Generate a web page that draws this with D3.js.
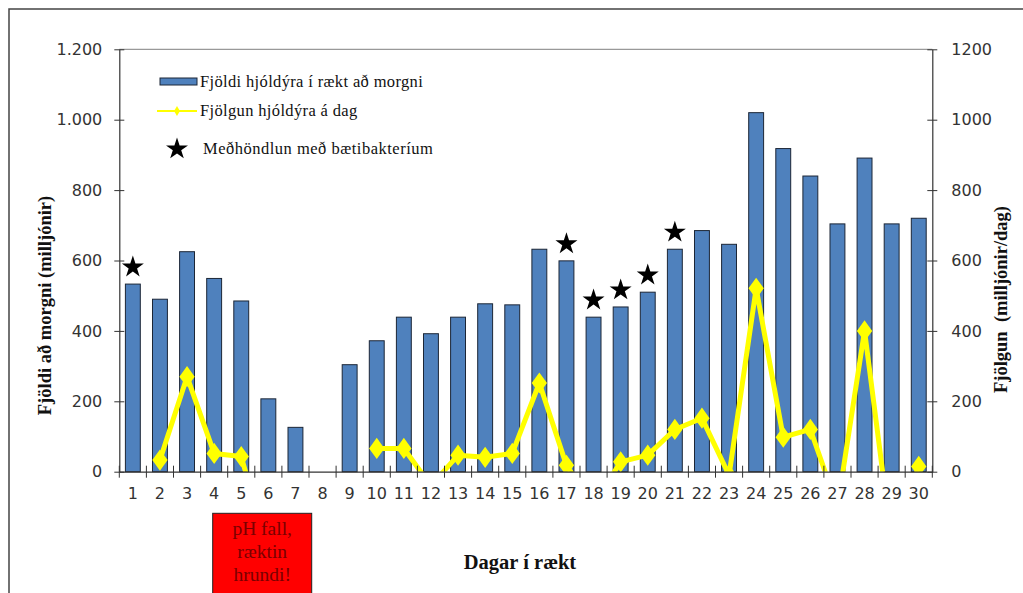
<!DOCTYPE html>
<html>
<head>
<meta charset="utf-8">
<script src="https://cdn.jsdelivr.net/npm/d3@7"></script>
<style>
  html, body { margin: 0; padding: 0; background: #fff; }
  svg { display: block; }
</style>
</head>
<body>
<svg id="chart" width="1023" height="593"></svg>
<script>
// Days in culture
const days = d3.range(1, 31);
// Rotifers in culture each morning (millions)
const morningCount = [533, 490, 625, 549, 485, 207, 126, null, 304, 372,
                      439, 392, 439, 477, 474, 632, 599, 439, 468, 510,
                      632, 685, 646, 1020, 918, 840, 704, 891, 704, 720];
// Daily increase (millions/day); null where no value was recorded
const dailyGrowth = [null, 33, 270, 52, 43, -230, null, null, null, 66,
                     66, -40, 47, 41, 52, 252, 18, -95, 28, 47,
                     120, 152, -10, 521, 98, 120, -100, 400, -200, 15];
// Days with probiotic treatment
const treatmentDays = [1, 17, 18, 19, 20, 21];
// Axis ticks
const leftTicks = [0, 200, 400, 600, 800, 1000, 1200];
const rightTicks = [0, 200, 400, 600, 800, 1000, 1200];
const leftTickLabels = ["0", "200", "400", "600", "800", "1.000", "1.200"];
const rightTickLabels = ["0", "200", "400", "600", "800", "1000", "1200"];

const svg = d3.select("#chart");
const plot = { left: 119.3, right: 932.3, top: 49.3, bottom: 471.7 };

const xBand = d3.scaleBand().domain(days).range([plot.left, plot.right])
  .paddingInner(0.45).paddingOuter(0.225);
const xStep = d3.scaleBand().domain(days).range([plot.left, plot.right]).padding(0);
const yLeft = d3.scaleLinear().domain([0, 1200]).range([plot.bottom, plot.top]);
const yRight = d3.scaleLinear().domain([0, 1200]).range([plot.bottom, plot.top]);
const cx = d => xBand(d) + xBand.bandwidth() / 2;

const serif = "'Liberation Serif', 'Times New Roman', serif";
const sans = "'DejaVu Sans', Verdana, sans-serif";

// outer chart frame
svg.append("rect").attr("x", 9).attr("y", 9).attr("width", 1030).attr("height", 600)
  .attr("fill", "none").attr("stroke", "#444").attr("stroke-width", 1.5);

// plot area top border
svg.append("line").attr("x1", plot.left).attr("x2", plot.right)
  .attr("y1", plot.top).attr("y2", plot.top)
  .attr("stroke", "#999").attr("stroke-width", 1.2);

// bars
svg.append("g").selectAll("rect")
  .data(days.filter((d, i) => morningCount[i] != null))
  .join("rect")
  .attr("x", d => xBand(d))
  .attr("width", xBand.bandwidth())
  .attr("y", d => yLeft(morningCount[d - 1]))
  .attr("height", d => yLeft(0) - yLeft(morningCount[d - 1]))
  .attr("fill", "#4F81BD")
  .attr("stroke", "#1c2636")
  .attr("stroke-width", 1);

// growth line, clipped to plot area
svg.append("clipPath").attr("id", "plotClip")
  .append("rect").attr("x", plot.left).attr("y", plot.top)
  .attr("width", plot.right - plot.left).attr("height", plot.bottom - plot.top);

const growthPts = days.map((d, i) => ({ day: d, v: dailyGrowth[i] }));
const line = d3.line().defined(p => p.v != null).x(p => cx(p.day)).y(p => yRight(p.v));
const gLine = svg.append("g").attr("clip-path", "url(#plotClip)");
gLine.append("path").datum(growthPts).attr("d", line)
  .attr("fill", "none").attr("stroke", "#FFFF00").attr("stroke-width", 5)
  .attr("stroke-linejoin", "round");
gLine.selectAll("path.mk").data(growthPts.filter(p => p.v != null)).join("path")
  .attr("class", "mk")
  .attr("d", d3.symbol(d3.symbolDiamond, 130)())
  .attr("transform", p => `translate(${cx(p.day)},${yRight(p.v)}) scale(1.25,1)`)
  .attr("fill", "#FFFF00");

// treatment stars above bars
svg.append("g").selectAll("path").data(treatmentDays).join("path")
  .attr("d", d3.symbol(d3.symbolStar, 150)())
  .attr("transform", d => `translate(${cx(d)},${yLeft(morningCount[d - 1]) - 17})`)
  .attr("fill", "#000");

// left axis
const axL = svg.append("g").attr("transform", `translate(${plot.left},0)`)
  .call(d3.axisLeft(yLeft).tickValues(leftTicks).tickSizeOuter(0).tickSizeInner(5).tickPadding(12)
    .tickFormat((d, i) => leftTickLabels[i]));
axL.select(".domain").attr("stroke", "#333").attr("stroke-width", 1.2);
axL.selectAll(".tick line").attr("x1", -5).attr("x2", 5).attr("stroke", "#333");
axL.selectAll(".tick text").attr("font-family", sans).attr("font-size", 16).attr("fill", "#333");

// right axis
const axR = svg.append("g").attr("transform", `translate(${plot.right},0)`)
  .call(d3.axisRight(yRight).tickValues(rightTicks).tickSizeOuter(0).tickSizeInner(5).tickPadding(14)
    .tickFormat((d, i) => rightTickLabels[i]));
axR.select(".domain").attr("stroke", "#333").attr("stroke-width", 1.2);
axR.selectAll(".tick line").attr("x1", -5).attr("x2", 5).attr("stroke", "#333");
axR.selectAll(".tick text").attr("font-family", sans).attr("font-size", 16).attr("fill", "#333");

// bottom axis: labels at day centres, ticks between days
const axB = svg.append("g").attr("transform", `translate(0,${plot.bottom})`)
  .call(d3.axisBottom(xStep).tickSize(0).tickPadding(24));
axB.select(".domain").attr("stroke", "#333").attr("stroke-width", 1.2);
axB.selectAll(".tick text").attr("font-family", sans).attr("font-size", 16).attr("fill", "#333")
  .attr("dy", "0.2em");
axB.selectAll("line.sep").data(days.concat([31])).join("line").attr("class", "sep")
  .attr("x1", d => d <= 30 ? xStep(d) : plot.right)
  .attr("x2", d => d <= 30 ? xStep(d) : plot.right)
  .attr("y1", -6).attr("y2", 6).attr("stroke", "#333");

// axis titles
svg.append("text").attr("transform", `translate(51,${(plot.top + plot.bottom) / 2 + 45}) rotate(-90)`)
  .attr("text-anchor", "middle").attr("font-family", serif).attr("font-weight", "bold")
  .attr("font-size", 18.5).attr("fill", "#111").text("Fjöldi að morgni (milljónir)");
svg.append("text").attr("transform", `translate(1007,${(plot.top + plot.bottom) / 2 + 39}) rotate(-90)`)
  .attr("text-anchor", "middle").attr("font-family", serif).attr("font-weight", "bold")
  .attr("font-size", 18.5).attr("fill", "#111").attr("xml:space", "preserve")
  .text("Fjölgun  (milljónir/dag)");
svg.append("text").attr("x", 520).attr("y", 569)
  .attr("text-anchor", "middle").attr("font-family", serif).attr("font-weight", "bold")
  .attr("font-size", 20.5).attr("fill", "#111").text("Dagar í rækt");

// legend
const legend = svg.append("g");
legend.append("rect").attr("x", 160).attr("y", 78).attr("width", 37).attr("height", 7)
  .attr("fill", "#4F81BD").attr("stroke", "#1c2636");
legend.append("text").attr("x", 200).attr("y", 87).attr("font-family", serif)
  .attr("font-size", 16.5).attr("letter-spacing", 0.35).attr("fill", "#111")
  .text("Fjöldi hjóldýra í rækt að morgni");
legend.append("line").attr("x1", 157).attr("x2", 197).attr("y1", 111).attr("y2", 111)
  .attr("stroke", "#FFFF00").attr("stroke-width", 2);
legend.append("path").attr("d", d3.symbol(d3.symbolDiamond, 30)())
  .attr("transform", "translate(177,111)").attr("fill", "#FFFF00");
legend.append("text").attr("x", 200).attr("y", 116).attr("font-family", serif)
  .attr("font-size", 16.5).attr("letter-spacing", 0.35).attr("fill", "#111")
  .text("Fjölgun hjóldýra á dag");
legend.append("path").attr("d", d3.symbol(d3.symbolStar, 150)())
  .attr("transform", "translate(177,149)").attr("fill", "#000");
legend.append("text").attr("x", 203).attr("y", 154).attr("font-family", serif)
  .attr("font-size", 16.5).attr("letter-spacing", 0.5).attr("fill", "#111")
  .text("Meðhöndlun með bætibakteríum");

// annotation box
const note = svg.append("g");
note.append("rect").attr("x", 212.7).attr("y", 513.3).attr("width", 99).attr("height", 100)
  .attr("fill", "#FF0000").attr("stroke", "#222").attr("stroke-width", 1);
["pH fall,", "ræktin", "hrundi!"].forEach((t, i) => {
  note.append("text").attr("x", 262.2).attr("y", 534.5 + i * 23)
    .attr("text-anchor", "middle").attr("font-family", serif).attr("font-size", 19.5)
    .attr("fill", "#7a0000").text(t);
});
</script>
</body>
</html>
